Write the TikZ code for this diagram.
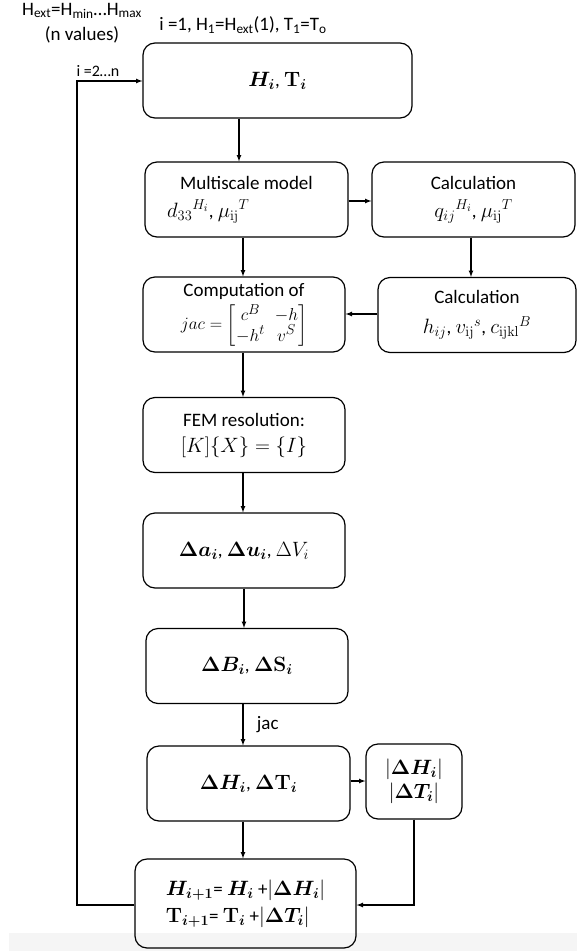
\documentclass[tikz,border=0pt]{standalone}
\usepackage{amsmath,bm}
\usepackage[no-math]{fontspec}
\setmainfont{Carlito}
\usetikzlibrary{arrows}
\newcommand{\mth}[1]{{\fontsize{21}{25}\selectfont$#1$}}

\begin{document}
\begin{tikzpicture}[x=1pt,y=-1pt,>=latex,
    every node/.style={font=\fontsize{19}{25}\selectfont},
    box/.style={draw,line width=1.2pt,rounded corners=12pt,minimum width=#1,
                minimum height=75pt,align=center,inner sep=2pt},
    box/.default=203pt,
    link/.style={line width=1.2pt,->}]
\useasboundingbox (0,0) rectangle (577,951);
\fill[black!4] (9,933) rectangle (577,951);

% labels at the top
\node (range) at (82,23) [align=center]
    {H\textsubscript{ext}=H\textsubscript{min}…H\textsubscript{max}\\(n values)};
\node (init) at (243,25) {i =1, H\textsubscript{1}=H\textsubscript{ext}(1), T\textsubscript{1}=T\textsubscript{o}};
\node (loop) at (98,71) [font=\fontsize{16}{20}\selectfont] {i =2…n};

% main column
\node[box=269pt] (hi) at (277.5,80.5) {\mth{\bm{H_i}}, \mth{\mathbf{T}_{\bm{i}}}};
\node[box,align=left] (multi) at (246.5,199.5)
    {Multiscale model\\[3pt]\hspace*{-13pt}\mth{d_{33}{}^{H_i}}, \mth{\mu_{\mathrm{ij}}{}^{T}}};
\node[box=202pt,inner sep=0pt] (jac) at (244,314.5)
    {Computation of\\[4pt]\renewcommand{\arraystretch}{0.65}%
     {\fontsize{19}{22}\selectfont$jac=\begin{bmatrix} c^B & -h\\ -h^t & v^S\end{bmatrix}$}};
\node[box=202pt] (fem) at (244,435)
    {FEM resolution:\\[1pt]\mth{[K]\{X\}=\{I\}}};
\node[box=202pt] (da) at (244,550.5)
    {\mth{\bm{\Delta a_i}}, \mth{\bm{\Delta u_i}}, \mth{\Delta V_i}};
\node[box=202pt] (db) at (247,666)
    {\mth{\bm{\Delta B_i}}, \mth{\bm{\Delta}\mathbf{S}_{\bm{i}}}};
\node[box=203pt] (dh) at (248.5,783.5)
    {\mth{\bm{\Delta H_i}}, \mth{\bm{\Delta}\mathbf{T}_{\bm{i}}}};
\node[box=221pt,minimum height=89pt,align=left] (upd) at (245.5,903.5)
    {\mth{\bm{H_{i+1}}}= \mth{\bm{H_i}} +\mth{|\bm{\Delta H_i}|}\\[2pt]
     \mth{\mathbf{T}_{\bm{i+1}}}= \mth{\mathbf{T}_{\bm{i}}} +\mth{|\bm{\Delta T_i}|}};

% side column
\node[box] (calcq) at (473.5,199.5)
    {Calculation\\[3pt]\mth{q_{ij}{}^{H_i}}, \mth{\mu_{\mathrm{ij}}{}^{T}}};
\node[box=198pt] (calch) at (477,315)
    {Calculation\\[5pt]\mth{h_{ij}}, \mth{v_{\mathrm{ij}}{}^{s}}, \mth{c_{\mathrm{ijkl}}{}^{B}}};
\node[box=96pt] (absd) at (414,781.5)
    {\mth{|\bm{\Delta H_i}|}\\[-1pt]\mth{|\bm{\Delta T_i}|}};

% connectors
\draw[link] (hi.south -| 239,0) -- (multi.north -| 239,0);
\draw[link] (multi.south -| 243,0) -- (jac.north -| 243,0);
\draw[link] (multi.east |- 0,201) -- (calcq.west |- 0,201);
\draw[link] (calcq.south -| 471,0) -- (calch.north -| 471,0);
\draw[link] (calch.west |- 0,314) -- (jac.east |- 0,314);
\draw[link] (jac.south -| 243,0) -- (fem.north -| 243,0);
\draw[link] (fem.south -| 243,0) -- (da.north -| 243,0);
\draw[link] (da.south -| 244,0) -- (db.north -| 244,0);
\draw[link] (db.south -| 243,0) -- node[right=10pt] {jac} (dh.north -| 243,0);
\draw[link] (dh.east |- 0,781) -- (absd.west |- 0,781);
\draw[link] (dh.south -| 243,0) -- (upd.north -| 243,0);
\draw[link] (absd.south) |- (upd.east |- 0,905);
\draw[link] (upd.west |- 0,905) -- (77,905) -- (77,81) -- (hi.west |- 0,81);
\end{tikzpicture}
\end{document}
